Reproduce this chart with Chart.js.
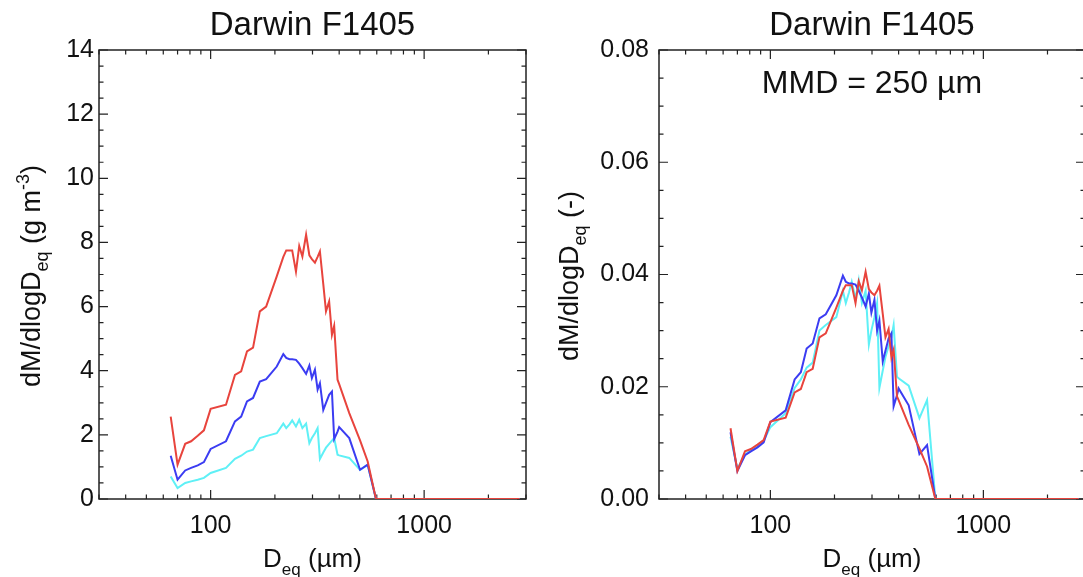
<!DOCTYPE html>
<html>
<head>
<meta charset="utf-8">
<script src="https://cdn.jsdelivr.net/npm/chart.js@4.4.1/dist/chart.umd.min.js"></script>
<style>
  html, body { margin: 0; padding: 0; background: #fff; overflow: hidden; width: 1083px; height: 577px; }
  canvas { position: absolute; top: 0; }
  #massChart { left: 0; }
  #normChart { left: 540px; }
</style>
</head>
<body>
<canvas id="massChart" width="540" height="577"></canvas>
<canvas id="normChart" width="560" height="577"></canvas>
<script>
// Chart Data
const diameters = [65, 70, 76, 81, 87, 93, 100, 118, 130, 139, 148, 158, 170, 182,
    204, 219, 226, 234, 241, 251, 260, 269, 280, 290, 298, 308, 317, 325,
    337, 347, 359, 370, 379, 393, 400, 446, 501, 544, 595, 1000, 2800];

const redMass = [2.57, 1.07, 1.72, 1.80, 1.97, 2.14, 2.81, 2.94, 3.87, 3.98, 4.60, 4.72, 5.85, 6.00,
    6.94, 7.55, 7.75, 7.75, 7.75, 7.09, 7.89, 7.56, 8.24, 7.60, 7.48, 7.37, 7.55, 7.72,
    6.70, 5.85, 6.16, 5.12, 5.40, 3.72, 3.58, 2.68, 1.83, 1.17, 0, 0, 0];
const blueMass = [1.35, 0.60, 0.89, 0.97, 1.05, 1.15, 1.56, 1.80, 2.42, 2.57, 3.04, 3.15, 3.66, 3.74,
    4.13, 4.52, 4.40, 4.36, 4.36, 4.34, 4.22, 4.08, 3.90, 4.16, 3.77, 4.03, 3.41, 3.61,
    2.78, 3.00, 3.25, 3.35, 1.87, 2.10, 2.24, 1.90, 0.91, 1.07, 0, 0, 0];
const cyanMass = [0.70, 0.34, 0.50, 0.55, 0.60, 0.66, 0.81, 0.97, 1.25, 1.35, 1.48, 1.54, 1.90, 1.96,
    2.05, 2.35, 2.21, 2.33, 2.45, 2.26, 2.47, 2.21, 2.35, 1.74, 1.90, 2.05, 2.21, 1.25,
    1.45, 1.60, 1.72, 1.82, 1.90, 1.38, 1.36, 1.28, 0.91, 1.07, 0, 0, 0];

const redNorm = [0.0126, 0.0050, 0.0085, 0.0089, 0.0097, 0.0105, 0.0138, 0.0145, 0.0190, 0.0196, 0.0226, 0.0232, 0.0288, 0.0295,
    0.0341, 0.0371, 0.0381, 0.0381, 0.0381, 0.0349, 0.0388, 0.0372, 0.0405, 0.0374, 0.0368, 0.0363, 0.0371, 0.0380,
    0.0330, 0.0288, 0.0303, 0.0252, 0.0266, 0.0183, 0.0176, 0.0132, 0.0090, 0.0058, 0, 0, 0];
const blueNorm = [0.0119, 0.0050, 0.0078, 0.0085, 0.0092, 0.0101, 0.0137, 0.0158, 0.0213, 0.0226, 0.0268, 0.0277, 0.0322, 0.0329,
    0.0363, 0.0398, 0.0387, 0.0384, 0.0384, 0.0382, 0.0371, 0.0359, 0.0343, 0.0366, 0.0332, 0.0355, 0.0300, 0.0318,
    0.0245, 0.0264, 0.0286, 0.0295, 0.0165, 0.0185, 0.0197, 0.0167, 0.0080, 0.0096, 0, 0, 0];
const cyanNorm = [0.0111, 0.0054, 0.0079, 0.0087, 0.0095, 0.0104, 0.0128, 0.0153, 0.0198, 0.0213, 0.0234, 0.0243, 0.0300, 0.0310,
    0.0324, 0.0371, 0.0349, 0.0368, 0.0387, 0.0357, 0.0390, 0.0349, 0.0371, 0.0275, 0.0300, 0.0324, 0.0349, 0.0198,
    0.0229, 0.0253, 0.0272, 0.0288, 0.0310, 0.0218, 0.0215, 0.0202, 0.0144, 0.0176, 0, 0, 0];

const xTicks = [30, 40, 50, 60, 70, 80, 90, 100, 200, 300, 400, 500, 600, 700, 800, 900, 1000, 2000, 3000];
const xLabels = [100, 1000];
const massYLabels = ['0', '2', '4', '6', '8', '10', '12', '14'];
const normYLabels = ['0.00', '0.02', '0.04', '0.06', '0.08'];

const FONT = '"Liberation Sans", Arial, Helvetica, sans-serif';
const INK = '#111';
Chart.defaults.font.family = FONT;
Chart.defaults.color = INK;

// sub/superscript text drawn centred on (cx, cy) baseline
function drawRich(ctx, parts, cx, cy, size, rotate) {
    ctx.save();
    ctx.translate(cx, cy);
    if (rotate) ctx.rotate(-Math.PI / 2);
    ctx.textAlign = 'left';
    ctx.textBaseline = 'alphabetic';
    ctx.fillStyle = INK;
    const fontOf = p => ((p.sub || p.sup) ? Math.round(size * 0.65) : size) + 'px ' + FONT;
    let w = 0;
    parts.forEach(p => { ctx.font = fontOf(p); w += ctx.measureText(p.t).width; });
    let x = -w / 2;
    parts.forEach(p => {
        ctx.font = fontOf(p);
        const dy = p.sub ? size * 0.3 : p.sup ? -size * 0.42 : 0;
        ctx.fillText(p.t, x, dy);
        x += ctx.measureText(p.t).width;
    });
    ctx.restore();
}

// IDL style box with inward ticks on all four sides, plus axis titles
const idlFrame = {
    id: 'idlFrame',
    beforeDatasetsDraw(chart) {
        const { ctx, chartArea: a, scales: { x, y } } = chart;
        ctx.save();
        ctx.strokeStyle = '#222';
        ctx.lineWidth = 1.5;
        ctx.strokeRect(a.left, a.top, a.right - a.left, a.bottom - a.top);
        ctx.lineWidth = 1.2;
        ctx.beginPath();
        x.ticks.forEach(t => {
            const px = x.getPixelForValue(t.value);
            const len = xLabels.includes(t.value) ? 9 : 4.5;
            ctx.moveTo(px, a.bottom); ctx.lineTo(px, a.bottom - len);
            ctx.moveTo(px, a.top); ctx.lineTo(px, a.top + len);
        });
        y.ticks.forEach(t => {
            const py = y.getPixelForValue(t.value);
            const len = t.label !== '' ? 9 : 4.5;
            ctx.moveTo(a.left, py); ctx.lineTo(a.left + len, py);
            ctx.moveTo(a.right, py); ctx.lineTo(a.right - len, py);
        });
        ctx.stroke();
        ctx.restore();
    },
    afterDraw(chart, args, opts) {
        const { ctx, chartArea: a } = chart;
        drawRich(ctx, opts.xTitle, (a.left + a.right) / 2, 567, 26, false);
        drawRich(ctx, opts.yTitle, opts.yTitleX, 276, 27, true);
        if (opts.note) {
            ctx.save();
            ctx.font = '32px ' + FONT;
            ctx.fillStyle = INK;
            ctx.textAlign = 'center';
            ctx.textBaseline = 'middle';
            ctx.fillText(opts.note, (a.left + a.right) / 2, 84);
            ctx.restore();
        }
    }
};

function lineSet(values, color) {
    return {
        data: diameters.map((d, i) => ({ x: d, y: values[i] })),
        borderColor: color,
        borderWidth: 2,
        pointRadius: 0,
        tension: 0,
        fill: false
    };
}

// sets: [red, blue, cyan] -- first dataset ends up drawn on top
function makeChart(id, sets, yMax, yStep, yLabels, yWidth, yPad, rightPad, yTitle, yTitleX, note) {
    const ctx = document.getElementById(id).getContext('2d');
    return new Chart(ctx, {
        type: 'line',
        data: {
            datasets: [
                lineSet(sets[0], '#e8443d'),
                lineSet(sets[1], '#3b3cf2'),
                lineSet(sets[2], '#5ff0f6')
            ]
        },
        options: {
            responsive: false,
            animation: false,
            devicePixelRatio: 1,
            layout: { padding: { left: 0, top: 0, right: rightPad, bottom: 0 } },
            plugins: {
                legend: { display: false },
                tooltip: { enabled: false },
                title: {
                    display: true,
                    fullSize: false,
                    text: 'Darwin F1405',
                    color: INK,
                    font: { size: 33, weight: 'normal' },
                    padding: { top: 6, bottom: 4.4 }
                },
                idlFrame: {
                    xTitle: [{ t: 'D' }, { t: 'eq', sub: true }, { t: ' (µm)' }],
                    yTitle: yTitle,
                    yTitleX: yTitleX,
                    note: note
                }
            },
            scales: {
                x: {
                    type: 'logarithmic',
                    min: 30,
                    max: 3000,
                    grid: { display: false, drawTicks: false },
                    border: { display: false },
                    afterBuildTicks: s => { s.ticks = xTicks.map(v => ({ value: v })); },
                    afterFit: s => { s.height = 78; },
                    ticks: {
                        autoSkip: false,
                        maxRotation: 0,
                        padding: 12,
                        font: { size: 25 },
                        callback: v => xLabels.includes(v) ? String(v) : ''
                    }
                },
                y: {
                    min: 0,
                    max: yMax,
                    grid: { display: false, drawTicks: false },
                    border: { display: false },
                    afterFit: s => { s.width = yWidth; },
                    ticks: {
                        stepSize: yStep,
                        autoSkip: false,
                        padding: yPad,
                        font: { size: 25 },
                        callback: v => {
                            const k = Math.round(v / yStep);
                            return k % 4 === 0 ? yLabels[k / 4] : '';
                        }
                    }
                }
            }
        },
        plugins: [idlFrame]
    });
}

makeChart('massChart', [redMass, blueMass, cyanMass], 14, 0.5, massYLabels, 99, 5, 14,
    [{ t: 'dM/dlogD' }, { t: 'eq', sub: true }, { t: ' (g m' }, { t: '-3', sup: true }, { t: ')' }], 40, null);

makeChart('normChart', [redNorm, blueNorm, cyanNorm], 0.08, 0.005, normYLabels, 119, 10, 15,
    [{ t: 'dM/dlogD' }, { t: 'eq', sub: true }, { t: ' (-)' }], 38, 'MMD = 250 µm');
</script>
</body>
</html>
